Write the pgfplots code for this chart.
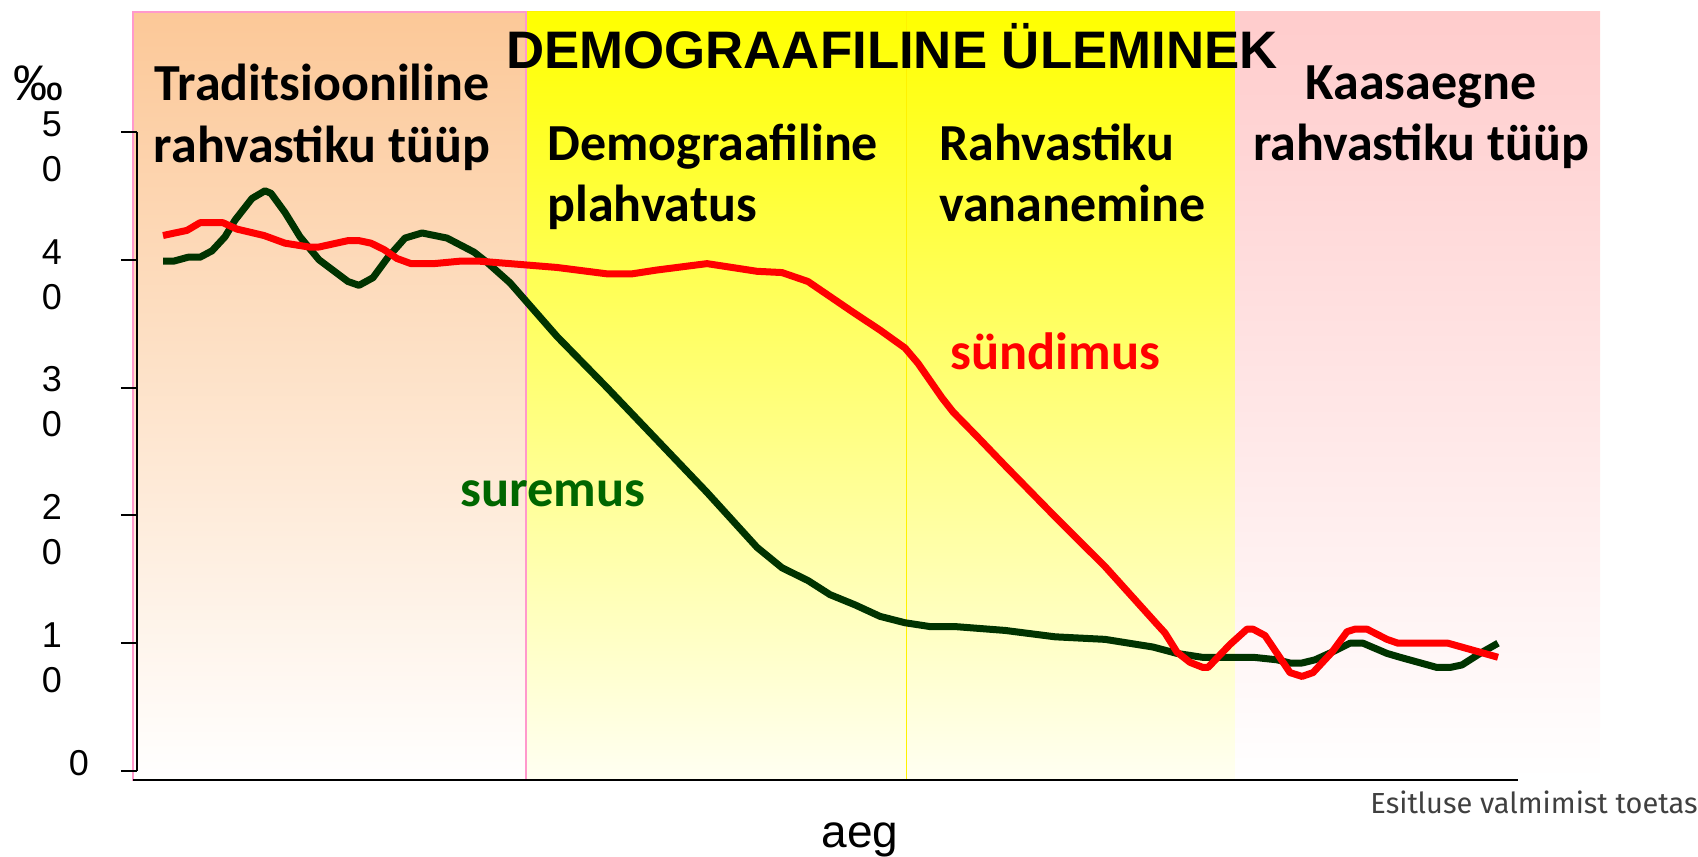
\documentclass[border=0pt]{standalone}
\usepackage{fontspec}
\setmainfont{Liberation Sans}
\newfontfamily\calfont{Carlito}
\newfontfamily\firafont{Fira Sans}
\usepackage{pgfplots}
\pgfplotsset{compat=1.18}

\definecolor{births}{HTML}{FF0000}
\definecolor{deaths}{HTML}{003300}
\definecolor{deathtxt}{HTML}{006600}
\definecolor{peach}{RGB}{252,200,152}
\definecolor{rose}{RGB}{255,204,204}
\definecolor{pinkline}{HTML}{FF99CC}
\definecolor{footgray}{HTML}{404040}

% x in reference pixels, y in per mille (0 at px 771, 12.78 px per unit)
\pgfplotstableread{
x    y
163  41.9
187  42.3
200  42.9
223  42.9
237  42.4
264  41.9
285  41.3
309  41.0
319  41.0
348  41.5
359  41.5
371  41.3
384  40.8
397  40.1
411  39.7
434  39.7
461  39.9
478  39.9
510  39.7
557  39.4
607  38.9
632  38.9
657  39.2
707  39.7
757  39.1
782  39.0
808  38.3
853  35.9
880  34.5
905  33.1
918  31.9
942  29.2
953  28.1
978  26.1
1005 23.9
1055 19.9
1105 16.0
1158 11.4
1165 10.8
1177 9.3
1190 8.5
1203 8.1
1208 8.1
1230 9.9
1247 11.1
1253 11.1
1265 10.6
1290 7.7
1302 7.4
1313 7.7
1332 9.3
1347 10.9
1355 11.1
1367 11.1
1387 10.3
1398 10.0
1448 10.0
1498 8.9
}\sundimus

\pgfplotstableread{
x    y
163  39.9
174  39.9
188  40.2
200  40.2
212  40.7
225  41.8
235  43.1
252  44.8
265  45.4
271  45.2
285  43.7
300  41.8
319  40.0
348  38.3
359  38.0
373  38.6
388  40.2
405  41.7
422  42.1
447  41.7
474  40.6
487  39.8
510  38.2
557  34.0
607  30.0
657  25.9
707  21.8
757  17.5
782  15.9
808  14.9
830  13.8
855  13.0
880  12.1
905  11.6
930  11.3
955  11.3
1005 11.0
1055 10.5
1105 10.3
1153 9.7
1177 9.2
1202 8.9
1253 8.9
1277 8.7
1290 8.45
1302 8.45
1315 8.7
1332 9.3
1350 10.0
1363 10.0
1387 9.2
1400 8.9
1437 8.1
1450 8.1
1462 8.3
1480 9.2
1498 10.0
}\suremus

\begin{document}
\begin{tikzpicture}
\useasboundingbox (0,0) rectangle (849pt,428.5pt);

\begin{axis}[
    at={(66.5pt,38.5pt)}, anchor=south west,
    scale only axis, width=733.5pt, height=384pt,
    xmin=133, xmax=1600, ymin=-0.704, ymax=59.39,
    hide axis, clip=false,
]
% background panels
\addplot[draw=pinkline, line width=0.6pt, top color=peach, bottom color=white, forget plot]
    coordinates {(133,-0.704) (526,-0.704) (526,59.39) (133,59.39)} -- cycle;
\addplot[draw=yellow, line width=0.5pt, top color=yellow, bottom color=yellow!5, forget plot]
    coordinates {(526,-0.704) (906,-0.704) (906,59.39) (526,59.39)} -- cycle;
\addplot[draw=yellow, line width=0.5pt, top color=yellow, bottom color=yellow!5, forget plot]
    coordinates {(906,-0.704) (1235,-0.704) (1235,59.39) (906,59.39)} -- cycle;
\addplot[draw=none, top color=rose, bottom color=white, forget plot]
    coordinates {(1235,-0.704) (1600,-0.704) (1600,59.39) (1235,59.39)} -- cycle;
\draw[pinkline, line width=0.6pt] (axis cs:133,-0.704) -- (axis cs:133,59.39) -- (axis cs:526,59.39) -- (axis cs:526,-0.704);

% data
\addplot[deaths, line width=3.5pt, line join=round, no marks] table[x=x, y=y] {\suremus};
\addplot[births, line width=3.5pt, line join=round, no marks] table[x=x, y=y] {\sundimus};

% x axis line
\draw[black, line width=1pt] (axis cs:133,-0.704) -- (axis cs:1518,-0.704);

% labels
\tikzset{every node/.append style={inner sep=0pt}}
\node[anchor=base, font=\calfont\bfseries\fontsize{26}{31}\selectfont] at (axis cs:322,52.5) {Traditsiooniline};
\node[anchor=base, font=\calfont\bfseries\fontsize{26}{31}\selectfont] at (axis cs:322,47.65) {rahvastiku tüüp};
\node[anchor=base west, font=\calfont\bfseries\fontsize{26}{31}\selectfont] at (axis cs:547,47.73) {Demograafiline};
\node[anchor=base west, font=\calfont\bfseries\fontsize{26}{31}\selectfont] at (axis cs:547,42.96) {plahvatus};
\node[anchor=base west, font=\calfont\bfseries\fontsize{26}{31}\selectfont] at (axis cs:939,47.73) {Rahvastiku};
\node[anchor=base west, font=\calfont\bfseries\fontsize{26}{31}\selectfont] at (axis cs:939,42.96) {vananemine};
\node[anchor=base, font=\calfont\bfseries\fontsize{26}{31}\selectfont] at (axis cs:1421,52.58) {Kaasaegne};
\node[anchor=base, font=\calfont\bfseries\fontsize{26}{31}\selectfont] at (axis cs:1421,47.73) {rahvastiku tüüp};
\node[anchor=base west, births, font=\calfont\bfseries\fontsize{26.2}{31}\selectfont] at (axis cs:950,31.38) {sündimus};
\node[anchor=base west, deathtxt, font=\calfont\bfseries\fontsize{26.2}{31}\selectfont] at (axis cs:460,20.66) {suremus};
\node[anchor=base, font=\bfseries\fontsize{26.4}{30}\selectfont] at (axis cs:892,55.0) {DEMOGRAAFILINE ÜLEMINEK};
\node[anchor=base, font=\fontsize{23}{27}\selectfont] at (axis cs:860,-5.95) {aeg};
\node[anchor=base, font=\fontsize{25}{30}\selectfont] at (axis cs:39,52.5) {‰};
\node[anchor=base west, footgray, font=\firafont\fontsize{14.5}{17}\selectfont] at (axis cs:1370,-3.29) {Esitluse valmimist toetas};
\end{axis}

% y axis: 0 at px 771, 50 at px 132
\begin{axis}[
    at={(68.5pt,43pt)}, anchor=south west,
    scale only axis, width=10pt, height=319.5pt,
    xmin=0, xmax=1, ymin=0, ymax=50,
    axis x line=none, axis y line=left,
    y axis line style={-, line width=1pt},
    ytick={0,10,20,30,40,50},
    tick align=outside, major tick length=8pt,
    ytick style={line width=1pt, black},
    yticklabels={{\hspace*{27pt}0\\\phantom{0}},{1\\0},{2\\0},{3\\0},{4\\0},{5\\0}},
    yticklabel style={align=center, anchor=center, inner sep=0pt,
        xshift=-34.5pt, yshift=-7.25pt,
        font=\fontsize{18}{22.5}\selectfont},
]
\end{axis}
\end{tikzpicture}
\end{document}
